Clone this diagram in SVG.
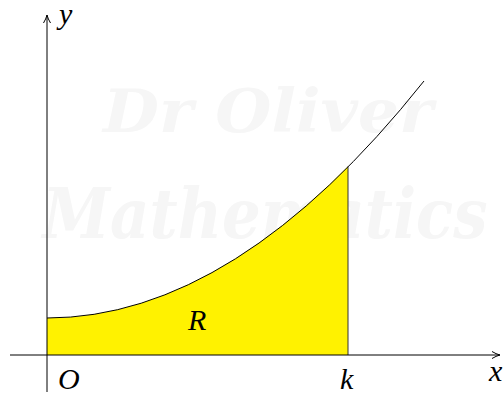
<svg xmlns="http://www.w3.org/2000/svg" width="503" height="393" viewBox="0 0 503 393">
<defs>
<style>
.lbl{font-family:"Liberation Serif","DejaVu Serif",serif;font-style:italic;font-size:30px;fill:#000}
.wm{font-family:"DejaVu Serif","Liberation Serif",serif;font-style:italic;font-weight:bold;fill:#f6f6f6}
.ax{stroke:#000;stroke-width:1;fill:none}
</style>
<marker id="arr" viewBox="0 0 10 10" refX="9" refY="5" markerWidth="10" markerHeight="10" markerUnits="userSpaceOnUse" orient="auto">
<path d="M1,1.5 Q5,4 9,5 Q5,6 1,8.5" fill="none" stroke="#000" stroke-width="1"/>
</marker>
</defs>
<rect width="503" height="393" fill="#fff"/>
<g id="watermark">
<text class="wm" x="268" y="132" font-size="60" text-anchor="middle" textLength="330" lengthAdjust="spacingAndGlyphs">Dr Oliver</text>
<text class="wm" x="265" y="238" font-size="70" text-anchor="middle" textLength="445" lengthAdjust="spacingAndGlyphs">Mathematics</text>
</g>
<g id="region-R">
<path d="M47,318 Q197.5,318 348,166.5 L348,355 L47,355 Z" fill="#fff200" stroke="none"/>
<line x1="348" y1="166.5" x2="348" y2="355" stroke="#333" stroke-width="1"/>
<text class="lbl" x="188" y="330">R</text>
</g>
<g id="connectors">
<line class="ax" x1="10" y1="355" x2="500" y2="355" marker-end="url(#arr)"/>
<line class="ax" x1="47" y1="392" x2="47" y2="15" marker-end="url(#arr)"/>
<path class="ax" d="M47,318 Q235.5,318 424,81"/>
</g>
<g id="labels">
<text class="lbl" x="59" y="24">y</text>
<text class="lbl" x="489" y="381">x</text>
<text class="lbl" x="58" y="389">O</text>
<text class="lbl" x="340" y="389">k</text>
</g>
</svg>
